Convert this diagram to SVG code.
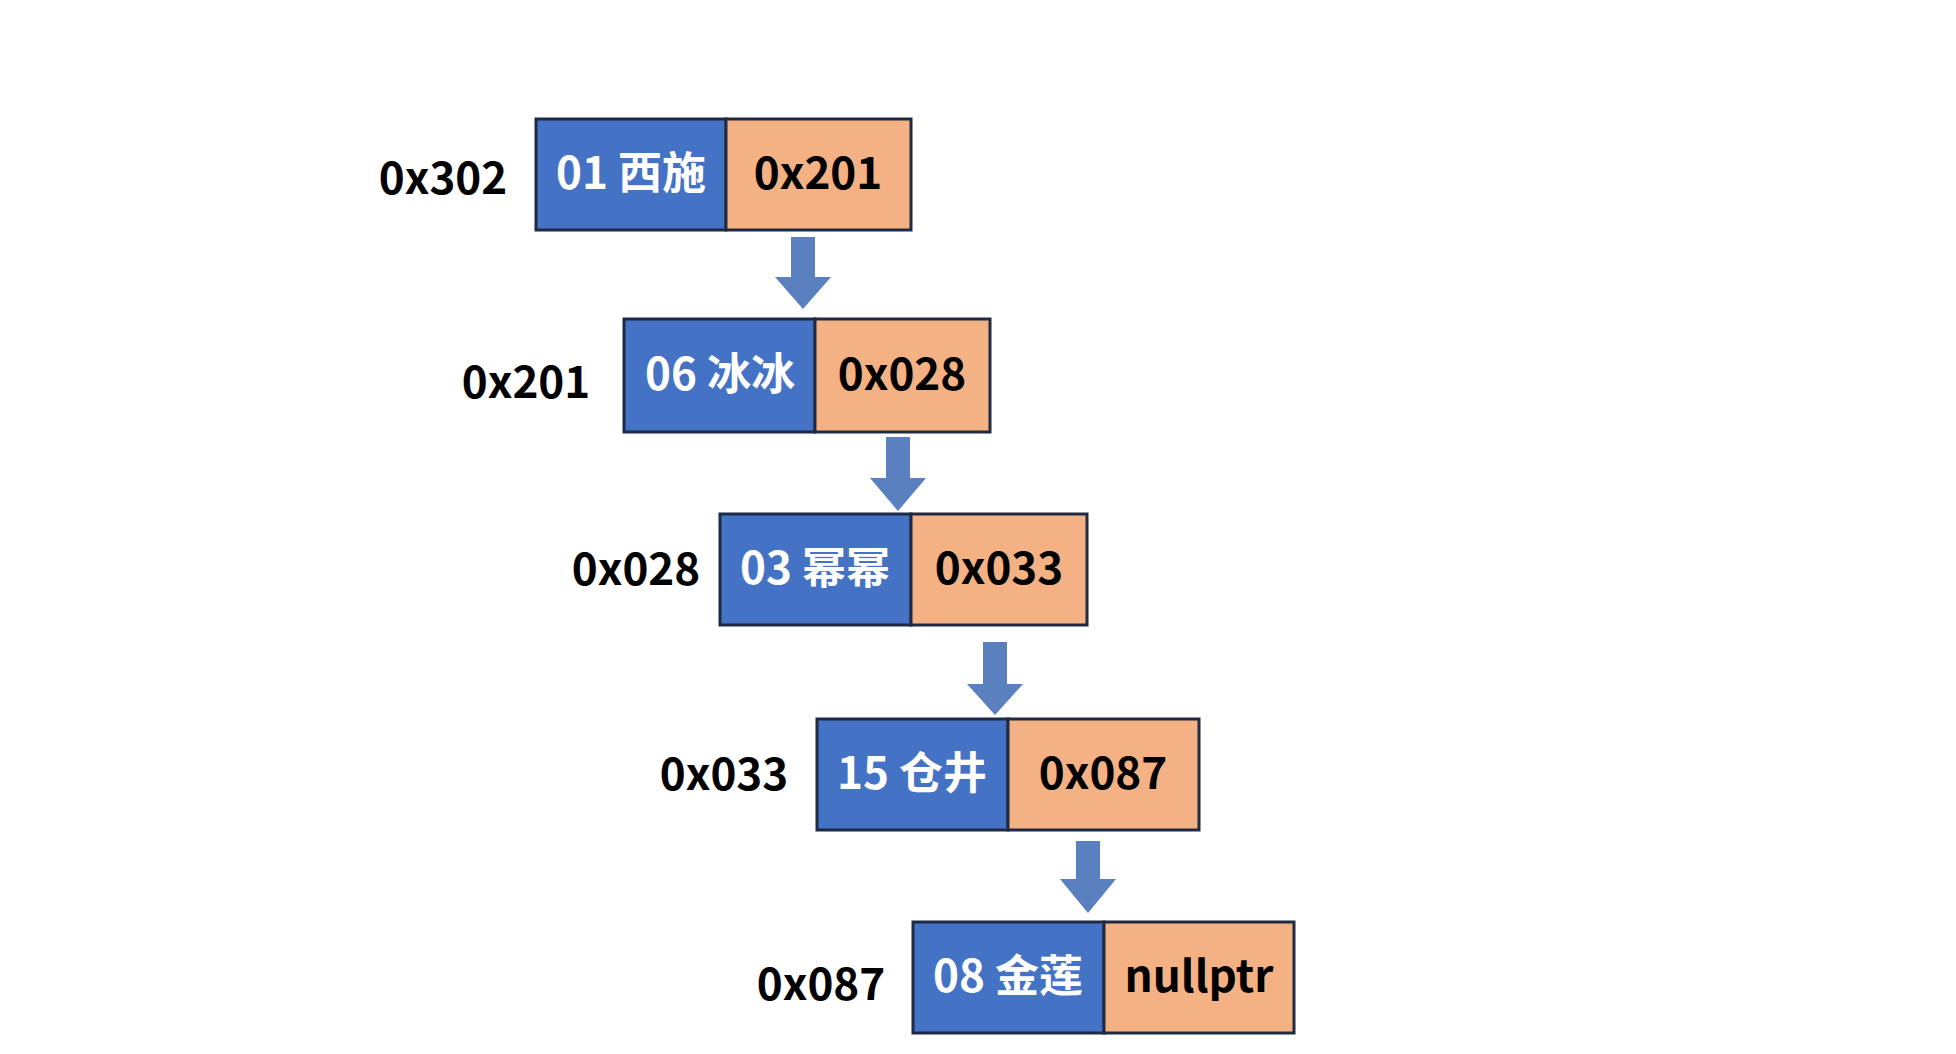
<svg xmlns="http://www.w3.org/2000/svg" width="1956" height="1054" viewBox="0 0 1956 1054">
<defs>
<style>
.bg{fill:#ffffff}
.k{fill:#4472C4;stroke:#1f2a44;stroke-width:3}
.p{fill:#F4B183;stroke:#1f2a44;stroke-width:3}
.t{font-family:"Noto Sans CJK SC","Noto Sans",sans-serif;font-weight:bold;font-size:44px;text-anchor:middle}
.w{fill:#ffffff}
.b{fill:#000000}
.arr{fill:#5A80C0}
</style>
</defs>
<rect class="bg" x="0" y="0" width="1956" height="1054"/>
<g id="connectors">
<polygon class="arr" points="791,237 815,237 815,277 831,277 803,309 775,277 791,277"/>
<polygon class="arr" points="886,437 910,437 910,478 926,478 898,511 870,478 886,478"/>
<polygon class="arr" points="983,642 1007,642 1007,684 1023,684 995,715 967,684 983,684"/>
<polygon class="arr" points="1076,841 1100,841 1100,879 1116,879 1088,913 1060,879 1076,879"/>
</g>
<g id="node1">
<text class="t b" x="443" y="179" dy=".35em">0x302</text>
<rect class="k" x="536" y="119" width="190" height="111"/>
<rect class="p" x="726" y="119" width="185" height="111"/>
<text class="t w" x="631" y="174" dy=".35em">01 西施</text>
<text class="t b" x="818" y="174" dy=".35em">0x201</text>
</g>
<g id="node2">
<text class="t b" x="526" y="383" dy=".35em">0x201</text>
<rect class="k" x="624" y="319" width="191" height="113"/>
<rect class="p" x="815" y="319" width="175" height="113"/>
<text class="t w" x="720" y="375" dy=".35em">06 冰冰</text>
<text class="t b" x="902" y="375" dy=".35em">0x028</text>
</g>
<g id="node3">
<text class="t b" x="636" y="570" dy=".35em">0x028</text>
<rect class="k" x="720" y="514" width="191" height="111"/>
<rect class="p" x="911" y="514" width="176" height="111"/>
<text class="t w" x="815" y="569" dy=".35em">03 幂幂</text>
<text class="t b" x="999" y="569" dy=".35em">0x033</text>
</g>
<g id="node4">
<text class="t b" x="724" y="775" dy=".35em">0x033</text>
<rect class="k" x="817" y="719" width="191" height="111"/>
<rect class="p" x="1008" y="719" width="191" height="111"/>
<text class="t w" x="912" y="774" dy=".35em">15 仓井</text>
<text class="t b" x="1103" y="774" dy=".35em">0x087</text>
</g>
<g id="node5">
<text class="t b" x="821" y="985" dy=".35em">0x087</text>
<rect class="k" x="913" y="922" width="191" height="111"/>
<rect class="p" x="1104" y="922" width="190" height="111"/>
<text class="t w" x="1008" y="977" dy=".35em">08 金莲</text>
<text class="t b" x="1199" y="977" dy=".35em">nullptr</text>
</g>
</svg>
